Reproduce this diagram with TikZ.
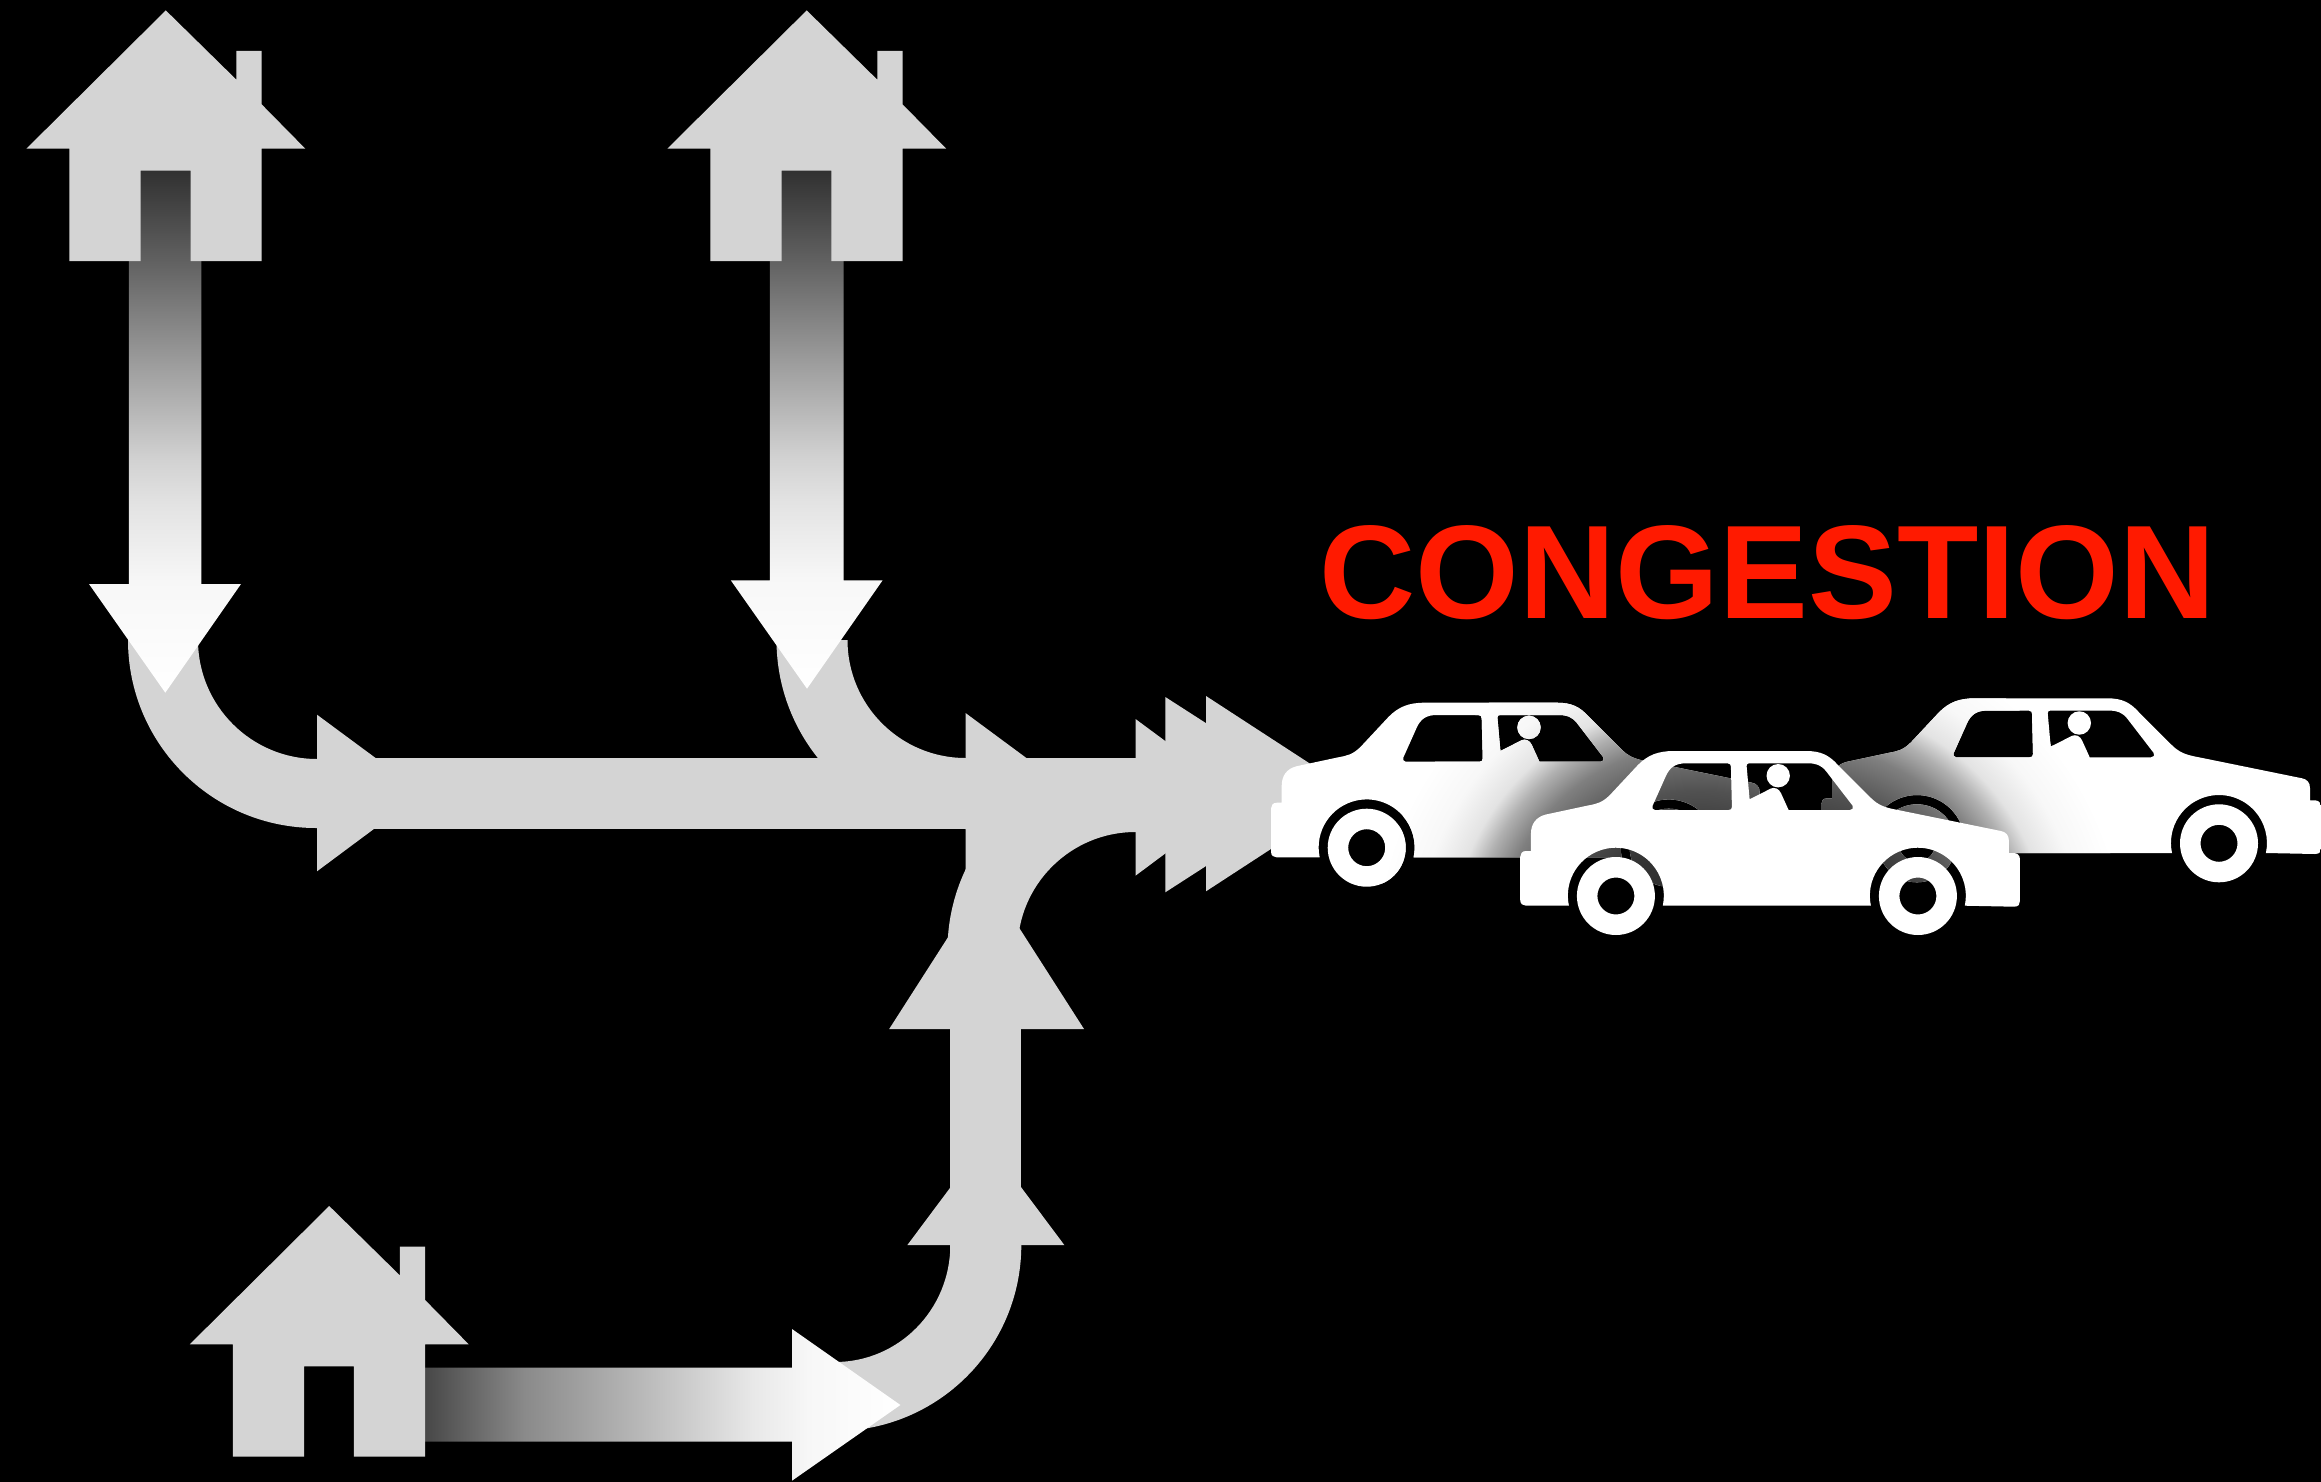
\documentclass[tikz,border=0pt]{standalone}
\usepackage{fontspec}
\setmainfont{Liberation Sans}
\definecolor{roadgray}{HTML}{D4D4D4}
\definecolor{titlered}{HTML}{FF1A00}
\pgfdeclarehorizontalshading{fadeH}{100bp}{color(0bp)=(black!72); color(25bp)=(black!72); color(35.4bp)=(black!46); color(47.5bp)=(black!28); color(59.5bp)=(black!9); color(65.5bp)=(black!3); color(75bp)=(white); color(100bp)=(white)}
\pgfdeclareverticalshading{fadeV}{100bp}{color(0bp)=(white); color(25bp)=(white); color(35.5bp)=(black!3); color(43bp)=(black!11); color(47.4bp)=(black!18); color(56.2bp)=(black!38); color(66.3bp)=(black!62); color(75bp)=(black!81); color(100bp)=(black!81)}
\pgfdeclareradialshading{carfade}{\pgfpoint{0bp}{0bp}}{color(0bp)=(black!85); color(8.3bp)=(black!80); color(12.3bp)=(black!68); color(14.3bp)=(black!58); color(15.8bp)=(black!50); color(17.7bp)=(black!31); color(19.25bp)=(black!11); color(21.75bp)=(black!3); color(25bp)=(white); color(50bp)=(white)}
\newcommand{\carpath}{%
 (-80,9.7) -- (-47,9.7) arc[start angle=192,end angle=-12,radius=48pt]
 -- (255,9.7) arc[start angle=192,end angle=-12,radius=48pt]
 -- (398,10.7) .. controls (403,10.7) and (404,8) .. (404,5) -- (404,-37) .. controls (404,-41) and (401,-43) .. (397.5,-43)
 -- (393,-43) -- (393,-55) .. controls (393,-61) and (390,-64) .. (385,-65)
 -- (282,-86) .. controls (268,-88.5) and (262,-91) .. (254,-99)
 -- (222,-131) .. controls (213,-141) and (205,-145) .. (190,-145)
 -- (58,-145) .. controls (42,-145) and (32,-141) .. (22,-131)
 -- (-6,-101) .. controls (-14,-93) and (-20,-92) .. (-28,-90.5)
 -- (-70,-81.5) .. controls (-80,-79) and (-85,-72) .. (-85,-62)
 -- (-85,-45) -- (-90,-45) .. controls (-94,-45) and (-95.7,-42) .. (-95.7,-39)
 -- (-95.7,4) .. controls (-95.7,8) and (-93,9.7) .. (-90,9.7) -- cycle
 (36.7,-90.3) -- (50,-120) .. controls (54,-129) and (60,-132.7) .. (70,-132.7)
 -- (111.7,-132.7) .. controls (114,-132.7) and (115,-131) .. (115,-129.3)
 -- (116,-89.3) .. controls (116,-87) and (115,-86) .. (112.7,-86)
 -- (39,-86) .. controls (36.5,-86) and (36,-88.5) .. (36.7,-90.3) -- cycle
 (130.7,-130) .. controls (130.5,-132) and (132,-132.7) .. (133.3,-132.7)
 -- (192,-132.7) .. controls (200,-132.7) and (205,-131) .. (210,-125)
 -- (236.7,-90.3) .. controls (238,-88) and (236.5,-86) .. (234,-86)
 -- (172.7,-86) -- (165,-103) .. controls (163,-107.5) and (158.5,-109) .. (155,-107.5)
 -- (133.7,-96.7) -- cycle
 (162.3,-120.3) circle[radius=11.7pt]
 (0,0) circle[radius=39pt] (0,0) circle[radius=18.5pt]
 (302,0) circle[radius=39pt] (302,0) circle[radius=18.5pt]
}
\newcommand{\housepath}{%
 (0,0) -- (70.6,69.3) -- (70.6,40.6) -- (95.9,40.6) -- (95.9,94) -- (139.5,138.3) -- (95.9,138.3)
 -- (95.9,250.6) -- (24.7,250.6) -- (24.7,160.3) -- (-25.2,160.3) -- (-25.2,250.6) -- (-96.4,250.6)
 -- (-96.4,138.3) -- (-139.4,138.3) -- cycle
}
\tikzset{road/.style={fill=roadgray,draw=none},house/.style={fill=roadgray,draw=none}}
\begin{document}
\begin{tikzpicture}[x=1pt,y=-1pt]
\useasboundingbox (0,0) rectangle (2321,1482);
\fill[black] (0,0) rectangle (2321,1482);
% curved roads
\path[road] (128,640) arc[start angle=180,end angle=270,radius=188pt] -- (325,828) -- (325,759) -- (317,759) arc[start angle=270,end angle=180,radius=119pt] -- cycle;
\path[road] (776.5,640) arc[start angle=180,end angle=270,radius=189pt] -- (975,829) -- (975,758) -- (965.5,758) arc[start angle=270,end angle=180,radius=118pt] -- cycle;
\path[road] (947.5,950) arc[start angle=180,end angle=90,radius=188pt] -- (1145,762) -- (1145,832) -- (1135.5,832) arc[start angle=90,end angle=180,radius=118pt] -- cycle;
\path[road] (1021.3,1235) -- (1021.3,1245) arc[start angle=0,end angle=-90,x radius=186.3pt,y radius=186pt] -- (835,1362) arc[start angle=-90,end angle=0,x radius=115.3pt,y radius=117pt] -- (950.3,1235) -- cycle;
% main band and its arrow heads
\path[road] (317,758.3) rectangle (1206,828.7);
\path[road] (317,714.7) -- (376,758.3) -- (420,793) -- (374.3,828.7) -- (317,871.3) -- cycle;
\path[road] (965.5,713) -- (1026.8,758.3) -- (1070,793) -- (1026.8,829) -- (965.5,871) -- cycle;
\path[road] (1135.5,719) -- (1241,797) -- (1135.5,875.7) -- cycle;
\path[road] (1165.3,697) -- (1317,794.5) -- (1165.3,892.3) -- cycle;
\path[road] (1206,696) -- (1356,793.6) -- (1206,891.3) -- cycle;
% upward road
\path[road] (950.3,1250) rectangle (1021.3,1025);
\path[road] (907.4,1245) -- (985.8,1140) -- (1064.3,1245) -- cycle;
\path[road] (889.2,1029) -- (986.6,877) -- (1084,1029) -- cycle;
% fading arrows
\shade[shading=fadeV] (128.8,170) -- (201.3,170) -- (201.3,584) -- (241,584) -- (165.3,692.7) -- (89,584) -- (128.8,584) -- cycle;
\shade[shading=fadeV] (769.8,170) -- (843.6,170) -- (843.6,580.3) -- (882.6,580.3) -- (807,688.7) -- (730.8,580.3) -- (769.8,580.3) -- cycle;
\shade[shading=fadeH] (425,1367.7) -- (792,1367.7) -- (792,1329) -- (900.4,1405) -- (792,1480.7) -- (792,1441.7) -- (425,1441.7) -- cycle;
% houses
\begin{scope}[shift={(165.8,10.4)}] \path[house] \housepath; \end{scope}
\begin{scope}[shift={(806.7,10.4)}] \path[house] \housepath; \end{scope}
\begin{scope}[shift={(329.2,1206)}] \path[house] \housepath; \end{scope}
% title
\node[text=titlered,font=\fontsize{133.2}{140}\selectfont\bfseries,anchor=base,inner sep=0pt] (title) at (1767.5,618) {CONGESTION};
% cars
\begin{scope}[shift={(1366.7,847.7)},even odd rule]
 \clip \carpath;
 \fill[white] (-120,-170) rectangle (420,70);
 \shade[shading=carfade] (333.3,102.3) circle[radius=325pt];
\end{scope}
\begin{scope}[shift={(1917,843.3)},even odd rule]
 \clip \carpath;
 \fill[white] (-120,-170) rectangle (420,70);
 \shade[shading=carfade] (-117,106.7) circle[radius=325pt];
\end{scope}
\begin{scope}[shift={(1615.9,896)}]
 \fill[white,even odd rule] \carpath;
\end{scope}
\end{tikzpicture}
\end{document}
